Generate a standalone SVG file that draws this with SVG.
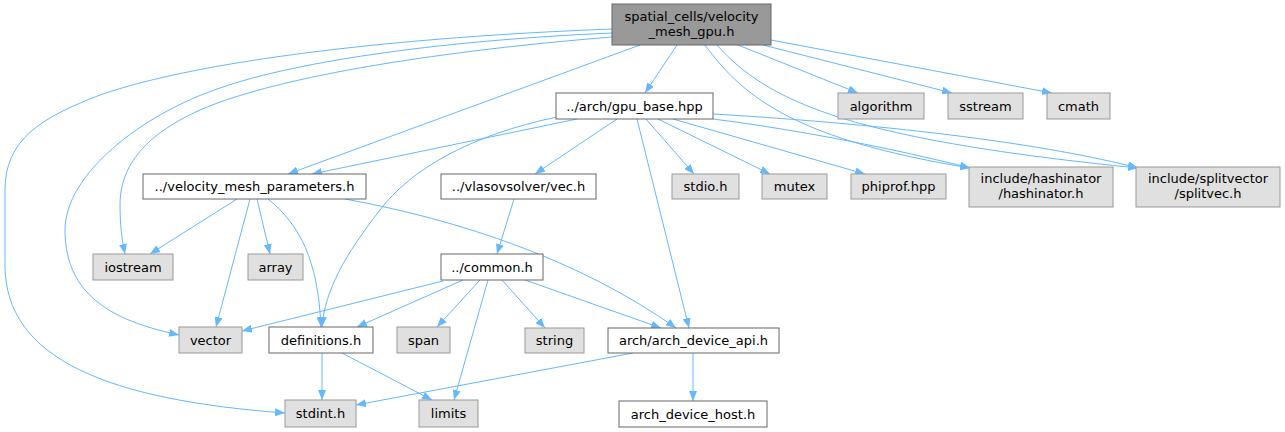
<svg xmlns="http://www.w3.org/2000/svg" width="1285" height="432" viewBox="0 0 1285 432">
<style>
.e{fill:none;stroke:#63b8ff;stroke-width:1;marker-end:url(#ah)}
.n rect{stroke-width:1}
.w rect{fill:#ffffff;stroke:#666666}
.g rect{fill:#e0e0e0;stroke:#999999}
.m rect{fill:#999999;stroke:#666666}
text{font-family:"DejaVu Sans","Liberation Sans",sans-serif;font-size:13px;fill:#000000;text-anchor:middle}
</style>
<defs>
<marker id="ah" viewBox="0 0 10 8" markerWidth="10" markerHeight="8" refX="10" refY="4" orient="auto" markerUnits="userSpaceOnUse">
<path d="M0,0 L10,4 L0,8 z" fill="#63b8ff"/>
</marker>
</defs>
<rect width="1285" height="432" fill="#ffffff"/>
<g id="edges">
<path class="e" d="M677,45 L645,93"/>
<path class="e" d="M738,45 L858,93"/>
<path class="e" d="M763,45 L952,93"/>
<path class="e" d="M771,40 L1052,93"/>
<path class="e" d="M705,45 C745,100 800,140 970,168"/>
<path class="e" d="M717,45 C770,105 860,140 1138,168"/>
<path class="e" d="M640,45 L288,174"/>
<path class="e" d="M612,37 C450,50 280,75 200,110 C140,137 120,170 120,205 C120,225 122,240 125,254"/>
<path class="e" d="M612,33 C450,40 300,60 220,88 C140,115 65,175 65,230 C65,300 120,322 179,335"/>
<path class="e" d="M612,29 C400,37 200,60 100,95 C40,118 5,140 5,190 L5,265 C5,360 110,400 285,413"/>
<path class="e" d="M577,119 L312,174"/>
<path class="e" d="M617,119 L535,174"/>
<path class="e" d="M557,117 C470,135 410,170 380,210 C345,255 325,290 322,327"/>
<path class="e" d="M646,119 L694,174"/>
<path class="e" d="M658,119 L770,174"/>
<path class="e" d="M673,119 L865,174"/>
<path class="e" d="M713,119 C800,130 900,150 970,168"/>
<path class="e" d="M713,114 C900,125 1050,145 1138,168"/>
<path class="e" d="M637,119 L689,328"/>
<path class="e" d="M237,199 L150,254"/>
<path class="e" d="M257,199 L270,254"/>
<path class="e" d="M250,199 L216,327"/>
<path class="e" d="M268,199 C300,225 318,260 321,327"/>
<path class="e" d="M345,199 C460,220 580,260 676,328"/>
<path class="e" d="M514,199 L497,254"/>
<path class="e" d="M443,281 L242,331"/>
<path class="e" d="M463,280 L357,327"/>
<path class="e" d="M480,280 L437,327"/>
<path class="e" d="M488,280 L454,400"/>
<path class="e" d="M502,280 L545,328"/>
<path class="e" d="M525,280 L661,328"/>
<path class="e" d="M322,353 L322,400"/>
<path class="e" d="M342,353 L432,400"/>
<path class="e" d="M693,353 L693,401"/>
<path class="e" d="M633,353 L356,405"/>
</g>
<g id="node-velocity_mesh_gpu" class="n m"><rect x="612" y="4" width="159" height="41"/><text x="691.5" y="21">spatial_cells/velocity</text><text x="691.5" y="36">_mesh_gpu.h</text></g>
<g id="node-gpu_base" class="n w"><rect x="556" y="93" width="157" height="26"/><text x="634.5" y="110.5">../arch/gpu_base.hpp</text></g>
<g id="node-algorithm" class="n g"><rect x="838" y="93" width="86" height="26"/><text x="881" y="110.5">algorithm</text></g>
<g id="node-sstream" class="n g"><rect x="948" y="93" width="75" height="26"/><text x="985.5" y="110.5">sstream</text></g>
<g id="node-cmath" class="n g"><rect x="1047" y="93" width="63" height="26"/><text x="1078.5" y="110.5">cmath</text></g>
<g id="node-velocity_mesh_parameters" class="n w"><rect x="143" y="174" width="223" height="25"/><text x="254.5" y="191">../velocity_mesh_parameters.h</text></g>
<g id="node-vec" class="n w"><rect x="441" y="174" width="155" height="25"/><text x="518.5" y="191">../vlasovsolver/vec.h</text></g>
<g id="node-stdio" class="n g"><rect x="672" y="174" width="67" height="25"/><text x="705.5" y="191">stdio.h</text></g>
<g id="node-mutex" class="n g"><rect x="762" y="174" width="65" height="25"/><text x="794.5" y="191">mutex</text></g>
<g id="node-phiprof" class="n g"><rect x="851" y="174" width="95" height="25"/><text x="898.5" y="191">phiprof.hpp</text></g>
<g id="node-hashinator" class="n g"><rect x="969" y="167" width="144" height="40"/><text x="1041" y="183">include/hashinator</text><text x="1041" y="198">/hashinator.h</text></g>
<g id="node-splitvec" class="n g"><rect x="1136" y="167" width="144" height="40"/><text x="1208" y="183">include/splitvector</text><text x="1208" y="198">/splitvec.h</text></g>
<g id="node-iostream" class="n g"><rect x="93" y="254" width="80" height="26"/><text x="133" y="271.5">iostream</text></g>
<g id="node-array" class="n g"><rect x="248" y="254" width="55" height="26"/><text x="275.5" y="271.5">array</text></g>
<g id="node-common" class="n w"><rect x="441" y="254" width="102" height="26"/><text x="492" y="271.5">../common.h</text></g>
<g id="node-vector" class="n g"><rect x="179" y="327" width="63" height="26"/><text x="210.5" y="344.5">vector</text></g>
<g id="node-definitions" class="n w"><rect x="269" y="327" width="104" height="26"/><text x="321" y="344.5">definitions.h</text></g>
<g id="node-span" class="n g"><rect x="397" y="327" width="53" height="26"/><text x="423.5" y="344.5">span</text></g>
<g id="node-string" class="n g"><rect x="525" y="328" width="59" height="25"/><text x="554.5" y="345">string</text></g>
<g id="node-arch_device_api" class="n w"><rect x="608" y="328" width="171" height="25"/><text x="693.5" y="345">arch/arch_device_api.h</text></g>
<g id="node-stdint" class="n g"><rect x="285" y="400" width="71" height="27"/><text x="320.5" y="418">stdint.h</text></g>
<g id="node-limits" class="n g"><rect x="419" y="400" width="59" height="27"/><text x="448.5" y="418">limits</text></g>
<g id="node-arch_device_host" class="n w"><rect x="619" y="401" width="148" height="26"/><text x="693" y="418.5">arch_device_host.h</text></g>
</svg>
